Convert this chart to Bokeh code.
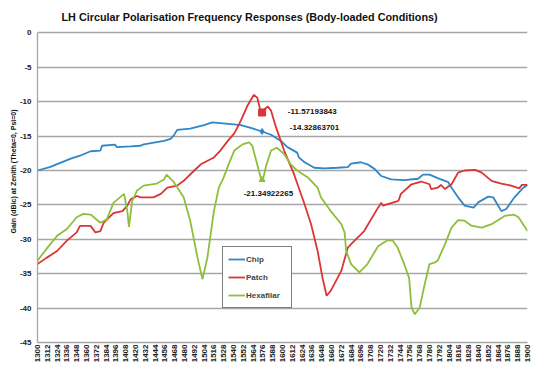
import math
from bokeh.plotting import figure
from bokeh.models import FixedTicker, Label, Legend, LegendItem, LinearAxis
from bokeh.embed import file_html
from bokeh.resources import INLINE

# ---- data ----
chip_f = [1300, 1315, 1340, 1352, 1365, 1377, 1379, 1395, 1397, 1414, 1426, 1430, 1455, 1463, 1467,
          1471, 1487, 1504, 1514, 1524, 1537, 1549, 1561, 1575, 1586, 1598, 1606, 1618, 1620, 1627,
          1639, 1651, 1667, 1680, 1684, 1696, 1704, 1713, 1721, 1733, 1749, 1766, 1772, 1780, 1790,
          1803, 1807, 1815, 1823, 1834, 1840, 1852, 1858, 1863, 1868, 1874, 1884, 1895, 1900]
chip_v = [-20.0, -19.5, -18.3, -17.85, -17.2, -17.1, -16.4, -16.25, -16.6, -16.5, -16.4, -16.2, -15.7, -15.4, -14.9,
          -14.1, -13.9, -13.4, -13.0, -13.1, -13.25, -13.4, -13.8, -14.33, -14.8, -15.7, -16.6, -17.4, -18.1, -18.8,
          -19.6, -19.7, -19.6, -19.5, -19.0, -18.8, -19.1, -19.8, -20.8, -21.3, -21.4, -21.2, -20.6, -20.6, -21.1,
          -21.7, -22.5, -23.9, -25.1, -25.4, -24.6, -23.8, -23.9, -24.9, -25.9, -25.6, -23.9, -22.5, -22.1]

patch_f = [1300, 1311, 1324, 1336, 1348, 1352, 1365, 1371, 1377, 1381, 1393, 1404, 1410, 1414, 1422, 1426,
           1442, 1451, 1459, 1471, 1479, 1492, 1500, 1516, 1524, 1533, 1541, 1549, 1557, 1565, 1569, 1573,
           1575, 1578, 1582, 1586, 1592, 1602, 1614, 1627, 1635, 1643, 1649, 1654, 1659, 1672, 1680, 1684,
           1700, 1717, 1721, 1723, 1742, 1745, 1758, 1770, 1780, 1782, 1790, 1794, 1799, 1807, 1815, 1823,
           1836, 1844, 1856, 1868, 1880, 1890, 1893, 1900]
patch_v = [-33.6, -32.7, -31.7, -30.2, -29.0, -28.05, -28.05, -29.0, -28.8, -27.6, -26.2, -25.9, -25.1, -24.2, -23.7, -23.9,
           -23.9, -23.4, -22.5, -22.2, -21.5, -20.0, -19.1, -18.1, -17.1, -15.7, -14.6, -12.75, -10.6, -9.0, -9.4, -11.3,
           -11.57, -11.1, -10.7, -11.3, -13.7, -17.1, -20.5, -24.9, -27.8, -31.7, -35.6, -38.2, -37.5, -34.6, -31.2, -30.7,
           -28.8, -25.4, -24.7, -25.1, -24.4, -23.4, -22.0, -21.6, -22.0, -22.7, -22.5, -22.1, -22.7, -22.0, -20.3, -20.0,
           -19.9, -20.3, -21.5, -21.9, -22.2, -22.6, -22.1, -22.1]

hexa_f = [1300, 1311, 1324, 1336, 1348, 1356, 1365, 1377, 1385, 1393, 1406, 1410, 1412, 1416, 1422, 1430,
          1446, 1455, 1458, 1467, 1479, 1487, 1496, 1502, 1508, 1516, 1522, 1528, 1534, 1541, 1551, 1559,
          1563, 1569, 1574, 1576, 1580, 1586, 1593, 1602, 1610, 1618, 1631, 1643, 1647, 1659, 1672, 1676,
          1678, 1684, 1694, 1704, 1717, 1729, 1735, 1741, 1749, 1755, 1758, 1762, 1768, 1774, 1780, 1786,
          1790, 1799, 1807, 1815, 1823, 1831, 1844, 1856, 1872, 1883, 1889, 1900]
hexa_v = [-33.1, -31.4, -29.5, -28.5, -26.8, -26.3, -26.4, -27.6, -27.1, -24.7, -23.4, -25.9, -28.2, -24.4, -22.9, -22.2,
          -21.9, -21.3, -20.6, -21.7, -23.9, -27.3, -32.7, -35.8, -32.7, -25.9, -22.5, -21.0, -19.1, -17.1, -16.2, -15.9,
          -16.4, -19.1, -21.35, -21.35, -19.3, -17.1, -16.7, -17.6, -19.1, -20.0, -21.0, -22.5, -23.9, -25.9, -27.8, -29.0,
          -31.7, -33.6, -34.8, -33.6, -31.0, -30.1, -30.2, -31.2, -33.6, -35.6, -39.9, -40.9, -39.9, -36.6, -33.6, -33.4,
          -33.1, -30.7, -28.3, -27.2, -27.3, -28.0, -28.3, -27.8, -26.6, -26.4, -26.8, -28.8]

series_names = ["Chip", "Patch", "Hexafilar"]
series_colors = ["#2f86c9", "#dc3434", "#8fbf3a"]

marker_f = 1575
marker_vals = [-14.32863701, -11.57193843, -21.34922265]
marker_texts = ["-14.32863701", "-11.57193843", "-21.34922265"]

x_ticks = list(range(1300, 1901, 12))
y_ticks = [0, -5, -10, -15, -20, -25, -30, -35, -40, -45]
y_tick_labels = ["0", "-5", "-10", "-15", "-20", "-25", "-30", "-35", "-40", "-45"]

title_text = "LH Circular Polarisation Frequency Responses (Body-loaded Conditions)"
y_title = "Gain (dBic) at Zenith (Theta=0, Psi=0)"

FONT = "Liberation Sans"
Y_TOP = 4.71  # headroom above 0 dB that holds the chart title

p = figure(width=540, height=368, output_backend="svg", toolbar_location=None,
           x_range=(1300, 1900), y_range=(-45, Y_TOP),
           min_border_left=37, min_border_right=13, min_border_top=0, min_border_bottom=26)

p.outline_line_color = None
p.xgrid.grid_line_color = None
p.ygrid.grid_line_color = "#a6a6a6"
p.ygrid.grid_line_width = 1.3

p.xaxis.ticker = FixedTicker(ticks=x_ticks)
p.yaxis.ticker = FixedTicker(ticks=y_ticks)
p.yaxis.bounds = (-45, 0)
p.yaxis.major_label_overrides = {t: s for t, s in zip(y_ticks, y_tick_labels)}
p.xaxis.major_label_orientation = math.pi / 2
for ax in (p.xaxis, p.yaxis):
    ax.axis_line_color = "#a6a6a6"
    ax.axis_line_width = 1.3
    ax.major_tick_line_color = None
    ax.minor_tick_line_color = None
    ax.major_tick_out = 0
    ax.major_tick_in = 0
    ax.major_label_text_font = FONT
    ax.major_label_text_font_style = "bold"
    ax.major_label_text_color = "#222222"
    ax.axis_label = None
    ax.axis_label_standoff = 0
p.xaxis.major_label_text_font_size = "8px"
p.xaxis.major_label_text_line_height = 1.0
p.xaxis.major_label_standoff = 2
p.yaxis.major_label_text_font_size = "8px"
p.yaxis.major_label_standoff = 6

# outer left axis that only carries the y-axis title (centred as in the reference)
title_axis = LinearAxis(ticker=FixedTicker(ticks=[]), bounds=(-49, 0),
                        axis_line_color=None, major_tick_line_color=None, minor_tick_line_color=None,
                        axis_label=y_title, axis_label_text_font=FONT, axis_label_text_font_size="7px",
                        axis_label_text_font_style="bold", axis_label_text_color="#111111",
                        axis_label_standoff=0)
p.add_layout(title_axis, "left")

# chart title
p.add_layout(Label(x=1329.4, y=2.25, text=title_text, text_font=FONT, text_font_size="10.8px",
                   text_font_style="bold", text_baseline="middle", text_color="#111111"))

renderers = []
for fs, vs, c in [(chip_f, chip_v, series_colors[0]), (patch_f, patch_v, series_colors[1]), (hexa_f, hexa_v, series_colors[2])]:
    r = p.line(fs, vs, line_color=c, line_width=1.8)
    renderers.append(r)

# markers at the labelled points
p.scatter([marker_f], [marker_vals[0]], marker="diamond", size=6, color=series_colors[0])
p.scatter([marker_f], [marker_vals[1]], marker="square", size=7, color=series_colors[1])
p.scatter([marker_f], [marker_vals[2]], marker="triangle", size=6, color=series_colors[2])

label_pos = [(1609, -13.77), (1606.5, -11.44), (1552.5, -23.38)]
for (lx, ly), t in zip(label_pos, marker_texts):
    p.add_layout(Label(x=lx, y=ly, text=t, text_font=FONT, text_font_size="8px",
                       text_font_style="bold", text_baseline="middle", text_color="#111111"))

legend = Legend(items=[LegendItem(label=n, renderers=[r]) for n, r in zip(series_names, renderers)],
                location=(185, 34))
legend.label_text_font = FONT
legend.label_text_font_size = "8px"
legend.label_text_font_style = "bold"
legend.label_standoff = 1
legend.label_width = 40
legend.glyph_width = 17
legend.glyph_height = 14
legend.label_height = 14
legend.spacing = 4
legend.padding = 5
legend.margin = 0
legend.border_line_color = "black"
legend.border_line_width = 1.5
legend.background_fill_color = "white"
legend.background_fill_alpha = 1
p.add_layout(legend, "center")

open("out.html", "w").write(file_html(p, INLINE))
